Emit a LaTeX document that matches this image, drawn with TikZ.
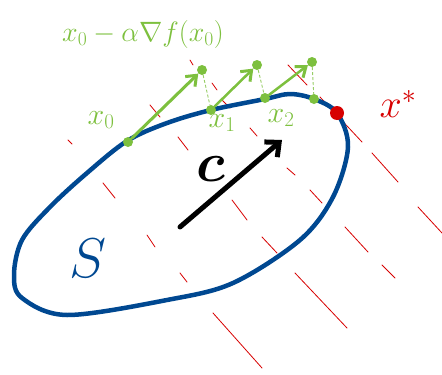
\RequirePackage{fix-cm}
\documentclass[tikz,border=0pt]{standalone}
\usepackage{amsmath}
\usetikzlibrary{arrows.meta}
\definecolor{setblue}{RGB}{0,72,145}
\definecolor{stepgreen}{RGB}{125,192,62}
\definecolor{hatchred}{RGB}{215,0,0}

\begin{document}
\begin{tikzpicture}[
  x=1pt, y=-1pt,
  every node/.style={inner sep=1pt},
  dot/.style={circle, fill=stepgreen, minimum size=10pt, inner sep=0pt},
  optdot/.style={circle, fill=hatchred, minimum size=14pt, inner sep=0pt},
  gstep/.style={draw=stepgreen, line width=3pt, line cap=round,
    -{Straight Barb[length=9pt, width=14pt, line width=3pt]}},
  proj/.style={draw=stepgreen!80, line width=0.9pt, densely dashed},
  hatch/.style={draw=hatchred, line width=0.8pt, line cap=round},
  glabel/.style={text=stepgreen, inner sep=0pt, font=\fontsize{30}{30}\selectfont}]

  \useasboundingbox (0,0) rectangle (442,375);

  % infeasible side: red hatching
  \foreach \a/\b/\c/\d in {
      68/140/72/144, 103/183/115/198, 147/235/155/247, 180/273/187/282,
      213/313/262/368, 178/137/188/150, 232/200/247/220, 262/237/277/253,
      295/273/347/328, 250/128/257/136, 287/168/295/175, 310/190/322/203,
      345/227/368/252, 382/265/395/278, 372/153/398/182, 418/207/442/233,
      190/60/193/65, 212/83/217/90, 222/100/230/108, 150/105/160/117,
      288/65/307/85, 320/97/362/142}
    \draw[hatch] (\a,\b) -- (\c,\d);

  % the set S
  \draw[setblue, line width=4.5pt, line join=round]
    plot[smooth cycle, tension=0.55] coordinates {
      (127,141) (167,123) (211,110) (265,99) (290,94) (314,99) (337,113)
      (348,147) (333,197) (300,240) (233,283) (167,300) (67,315) (22,298)
      (14,275) (22,240) (50,207) (87,173)};
  \node[text=setblue, font=\fontsize{56}{56}\selectfont] (s) at (88,258) {$S$};

  % direction c
  \coordinate (ctail) at (180,227);
  \coordinate (chead) at (282,140);
  \draw[line width=5pt, line cap=round,
    -{Straight Barb[length=11pt, width=20pt, line width=5pt]}] (ctail) -- (chead);
  \node[anchor=base, inner sep=0pt, font=\fontsize{56}{56}\selectfont] (c)
    at (211,181) {$\boldsymbol{c}$};

  % iterates
  \node[dot] (x0) at (128,142) {};
  \node[dot] (x1) at (211,110) {};
  \node[dot] (x2) at (265,98) {};
  \node[dot] (x3) at (314,99) {};
  \node[dot] (u1) at (202,70) {};
  \node[dot] (u2) at (257,65) {};
  \node[dot] (u3) at (312,62) {};
  \node[optdot] (xs) at (337,113) {};

  % gradient steps and projections
  \draw[gstep] (x0) -- (u1);
  \draw[gstep, line width=2.5pt] (x1) -- (u2);
  \draw[gstep, line width=2.5pt] (x2) -- (u3);
  \draw[proj] (u1) -- (x1);
  \draw[proj] (u2) -- (x2);
  \draw[proj] (u3) -- (x3);

  % labels
  \node[glabel] (lx0) at (101,120) {$x_0$};
  \node[glabel] (lx1) at (222,123) {$x_1$};
  \node[glabel] (lx2) at (281,118) {$x_2$};
  \node[glabel, font=\fontsize{28}{28}\selectfont] (lstep) at (143,34)
    {$x_0-\alpha\nabla f(x_0)$};
  \node[text=hatchred, font=\fontsize{40}{40}\selectfont] (lxs) at (398,104) {$x^*$};
\end{tikzpicture}
\end{document}
